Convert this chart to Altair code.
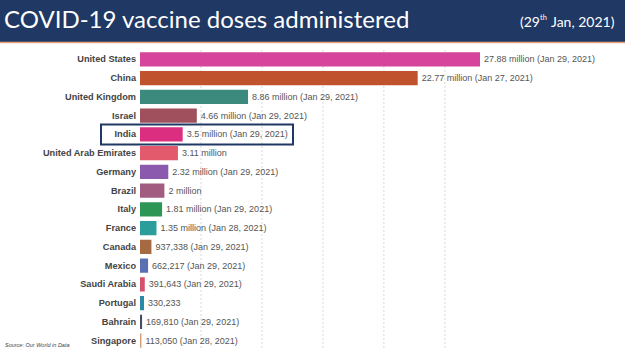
import altair as alt
import pandas as pd

countries = ["United States", "China", "United Kingdom", "Israel", "India",
             "United Arab Emirates", "Germany", "Brazil", "Italy", "France",
             "Canada", "Mexico", "Saudi Arabia", "Portugal", "Bahrain", "Singapore"]
values_m = [27.88, 22.77, 8.86, 4.66, 3.5, 3.11, 2.32, 2.0, 1.81, 1.35,
            0.937338, 0.662217, 0.391643, 0.330233, 0.16981, 0.11305]
value_labels = ["27.88 million (Jan 29, 2021)", "22.77 million (Jan 27, 2021)",
                "8.86 million (Jan 29, 2021)", "4.66 million (Jan 29, 2021)",
                "3.5 million (Jan 29, 2021)", "3.11 million",
                "2.32 million (Jan 29, 2021)", "2 million",
                "1.81 million (Jan 29, 2021)", "1.35 million (Jan 28, 2021)",
                "937,338 (Jan 29, 2021)", "662,217 (Jan 29, 2021)",
                "391,643 (Jan 29, 2021)", "330,233",
                "169,810 (Jan 29, 2021)", "113,050 (Jan 28, 2021)"]
bar_colors = ["#D6449B", "#C0532E", "#3C8A7E", "#A0505C", "#DB2E80",
              "#E25A6C", "#8B59AD", "#A25C80", "#2E9654", "#2B9E9B",
              "#A66A42", "#5B6FB5", "#D65069", "#2B88A6", "#474B63", "#D69A72"]
grid_values = [5, 10, 15, 20, 25]
highlight = ["India"]

title_text = "COVID-19 vaccine doses administered"
date_parts = ["(29", "th", "Jan, 2021)"]
source_text = "Source: Our World in Data"

NAVY = "#1F3864"
W, H = 485, 300

df = pd.DataFrame({"country": countries, "value": values_m,
                   "label": value_labels, "color": bar_colors})
grid_df = pd.DataFrame({"value": grid_values})
hl_df = pd.DataFrame({"country": highlight})
one = pd.DataFrame({"k": [0]})

y_enc = alt.Y("country:N", sort=countries, axis=None,
              scale=alt.Scale(domain=countries, paddingInner=0.24, paddingOuter=0.12))
x_scale = alt.Scale(domain=[0, 39.77], nice=False, zero=True)

grid = alt.Chart(grid_df).mark_rule(color="#d9d9d9", strokeDash=[2, 2], strokeWidth=1).encode(
    x=alt.X("value:Q", scale=x_scale, axis=None),
    y=alt.value(0), y2=alt.value(H))

bars = alt.Chart(df).mark_bar().encode(
    x=alt.X("value:Q", scale=x_scale, axis=None),
    y=y_enc,
    color=alt.Color("color:N", scale=None))

vlabels = alt.Chart(df).mark_text(align="left", baseline="middle", dx=4, fontSize=9,
                                  font="Liberation Sans", color="#555555").encode(
    x=alt.X("value:Q", scale=x_scale, axis=None), y=y_enc, text="label:N")

clabels = alt.Chart(df).mark_text(align="right", baseline="middle", fontSize=9.2,
                                  fontWeight="bold", font="Liberation Sans",
                                  color="#444444").encode(
    x=alt.value(-4), y=y_enc, text="country:N")

hbox = alt.Chart(hl_df).mark_bar(size=20, fill="transparent", stroke=NAVY, strokeWidth=2).encode(
    x=alt.value(-39), x2=alt.value(153), y=y_enc)

header = alt.Chart(one).mark_rect(color=NAVY).encode(
    x=alt.value(-140), x2=alt.value(W), y=alt.value(-50), y2=alt.value(-8))
hline = alt.Chart(one).mark_rule(color="#E9A27E", strokeWidth=1.5).encode(
    x=alt.value(-140), x2=alt.value(W), y=alt.value(-7.5))

title = alt.Chart(one).mark_text(align="left", baseline="middle", fontSize=24,
                                 font="Lato", color="white").encode(
    x=alt.value(-136), y=alt.value(-29), text=alt.value(title_text))
d1 = alt.Chart(one).mark_text(align="left", baseline="middle", fontSize=14,
                              font="Lato", color="white").encode(
    x=alt.value(380), y=alt.value(-27), text=alt.value(date_parts[0]))
d2 = alt.Chart(one).mark_text(align="left", baseline="middle", fontSize=7.5,
                              font="Lato", color="white").encode(
    x=alt.value(400), y=alt.value(-32), text=alt.value(date_parts[1]))
d3 = alt.Chart(one).mark_text(align="left", baseline="middle", fontSize=14,
                              font="Lato", color="white").encode(
    x=alt.value(411), y=alt.value(-27), text=alt.value(date_parts[2]))

source = alt.Chart(one).mark_text(align="left", baseline="middle", fontSize=5.5,
                                  fontStyle="italic", font="Liberation Sans",
                                  color="#444444").encode(
    x=alt.value(-135), y=alt.value(295), text=alt.value(source_text))

chart = alt.layer(header, hline, title, d1, d2, d3, grid, bars, vlabels, clabels, hbox, source).properties(
    width=W, height=H,
    autosize=alt.AutoSizeParams(type="none"),
    padding={"left": 140, "top": 50, "right": 0, "bottom": 1},
    background="white",
).configure_view(stroke=None)

chart.save("out.html", embed_options={"renderer": "svg", "actions": False})
